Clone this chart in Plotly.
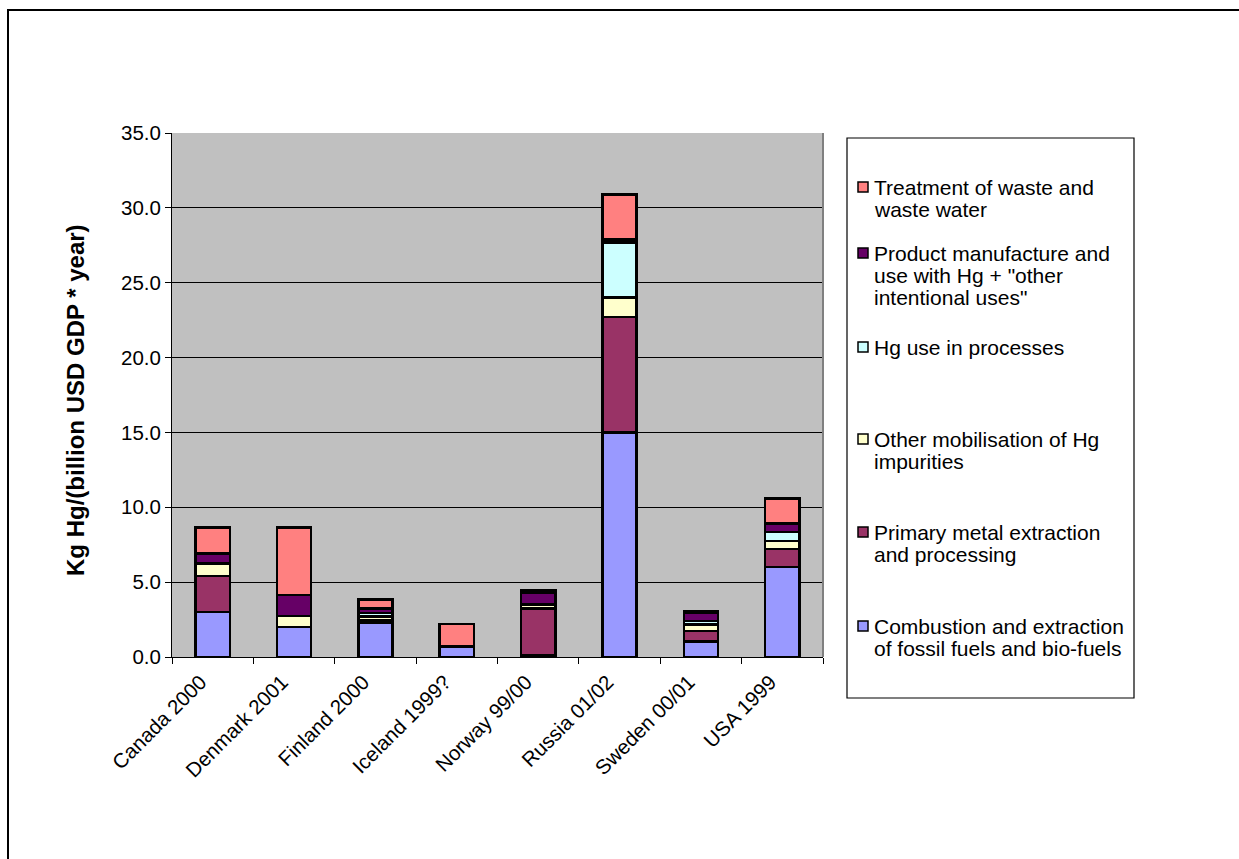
import plotly.graph_objects as go

# Countries / reporting years
countries = ["Canada 2000", "Denmark 2001", "Finland 2000", "Iceland 1999?",
             "Norway 99/00", "Russia 01/02", "Sweden 00/01", "USA 1999"]

# Mercury releases per source category, kg Hg per billion USD GDP per year
combustion = [3.0, 2.0, 2.3, 0.7, 0.1, 15.0, 1.05, 6.0]
primary_metal = [2.4, 0.0, 0.15, 0.0, 3.15, 7.7, 0.7, 1.2]
other_mobilisation = [0.85, 0.75, 0.25, 0.0, 0.25, 1.3, 0.42, 0.55]
hg_processes = [0.0, 0.0, 0.25, 0.0, 0.0, 3.7, 0.22, 0.6]
product_use = [0.65, 1.4, 0.3, 0.0, 0.8, 0.2, 0.56, 0.58]
waste_treatment = [1.75, 4.5, 0.6, 1.5, 0.15, 3.0, 0.1, 1.65]

y_ticks = [0, 5, 10, 15, 20, 25, 30, 35]

series = [
    ("Combustion and extraction of fossil fuels and bio-fuels", combustion, "#9999FF",
     ["Combustion and extraction", "of fossil fuels and bio-fuels"]),
    ("Primary metal extraction and processing", primary_metal, "#993366",
     ["Primary metal extraction", "and processing"]),
    ("Other mobilisation of Hg impurities", other_mobilisation, "#FFFFCC",
     ["Other mobilisation of Hg", "impurities"]),
    ("Hg use in processes", hg_processes, "#CCFFFF",
     ["Hg use in processes"]),
    ('Product manufacture and use with Hg + "other intentional uses"', product_use, "#660066",
     ["Product manufacture and", 'use with Hg + "other', 'intentional uses"']),
    ("Treatment of waste and waste water", waste_treatment, "#FF8080",
     ["Treatment of waste and", "waste water"]),
]

W, H = 1239, 859
PL, PR, PT, PB = 172, 823, 133, 657  # plot area in pixels


def px(x):
    return (x - PL) / (PR - PL)


def py(y):
    return (PB - y) / (PB - PT)


FONT = "Liberation Sans, Arial, sans-serif"

fig = go.Figure()
for name, vals, color, _ in series:
    fig.add_trace(go.Bar(
        x=countries, y=vals, name=name,
        marker=dict(color=color, line=dict(color="black", width=2.5)),
    ))

fig.update_layout(
    width=W, height=H,
    margin=dict(l=PL, r=W - PR, t=PT, b=H - PB, pad=0),
    barmode="stack", bargap=0.58,
    paper_bgcolor="white", plot_bgcolor="#C0C0C0",
    showlegend=False,
    font=dict(family=FONT, color="black", size=20),
)
fig.update_xaxes(
    type="category", tickson="boundaries", ticks="outside", ticklen=6,
    tickcolor="black", tickwidth=1, tickangle=-45,
    ticklabelshift=-12, ticklabelstandoff=4,
    showline=True, linecolor="black", linewidth=1,
    showgrid=False, tickfont=dict(size=20.5, family=FONT),
)
fig.update_yaxes(
    range=[0, 35], tickvals=y_ticks, tickformat=".1f",
    ticks="outside", ticklen=6, tickcolor="black", tickwidth=1,
    showline=True, linecolor="black", linewidth=1,
    showgrid=True, gridcolor="black", gridwidth=1,
    zeroline=False, tickfont=dict(size=20.5, family=FONT),
)

shapes = []
annotations = []

# Right edge of plot area
shapes.append(dict(type="line", xref="paper", yref="paper", x0=1, x1=1, y0=0, y1=1,
                   line=dict(color="#808080", width=2)))

# Outer chart frame
shapes.append(dict(type="rect", xref="paper", yref="paper",
                   x0=px(8), x1=px(W + 20), y0=py(H + 20), y1=py(10),
                   line=dict(color="black", width=2), fillcolor="rgba(0,0,0,0)"))

# Legend box
shapes.append(dict(type="rect", xref="paper", yref="paper",
                   x0=px(847), x1=px(1134), y0=py(698), y1=py(138),
                   line=dict(color="black", width=1.2), fillcolor="white"))

# Legend entries, top to bottom (reverse of stacking order)
first_line_y = [187, 253, 347, 439, 532, 626]
line_gap = 22.3
for (name, vals, color, lines), y0 in zip(reversed(series), first_line_y):
    shapes.append(dict(type="rect", xref="paper", yref="paper",
                       x0=px(858), x1=px(868), y0=py(y0 + 5), y1=py(y0 - 5),
                       line=dict(color="black", width=1.5), fillcolor=color))
    for i, t in enumerate(lines):
        annotations.append(dict(
            text=t, xref="paper", yref="paper", x=px(872), y=py(y0 + i * line_gap),
            xanchor="left", yanchor="middle", showarrow=False,
            font=dict(size=21, family=FONT, color="black"),
        ))

# Y-axis title
annotations.append(dict(
    text="<b>Kg Hg/(billion USD GDP * year)</b>", xref="paper", yref="paper",
    x=px(75), y=py(400), xanchor="center", yanchor="middle", textangle=-90,
    showarrow=False, font=dict(size=24, family=FONT, color="black"),
))

fig.update_layout(shapes=shapes, annotations=annotations)
fig.write_html("out.html")
